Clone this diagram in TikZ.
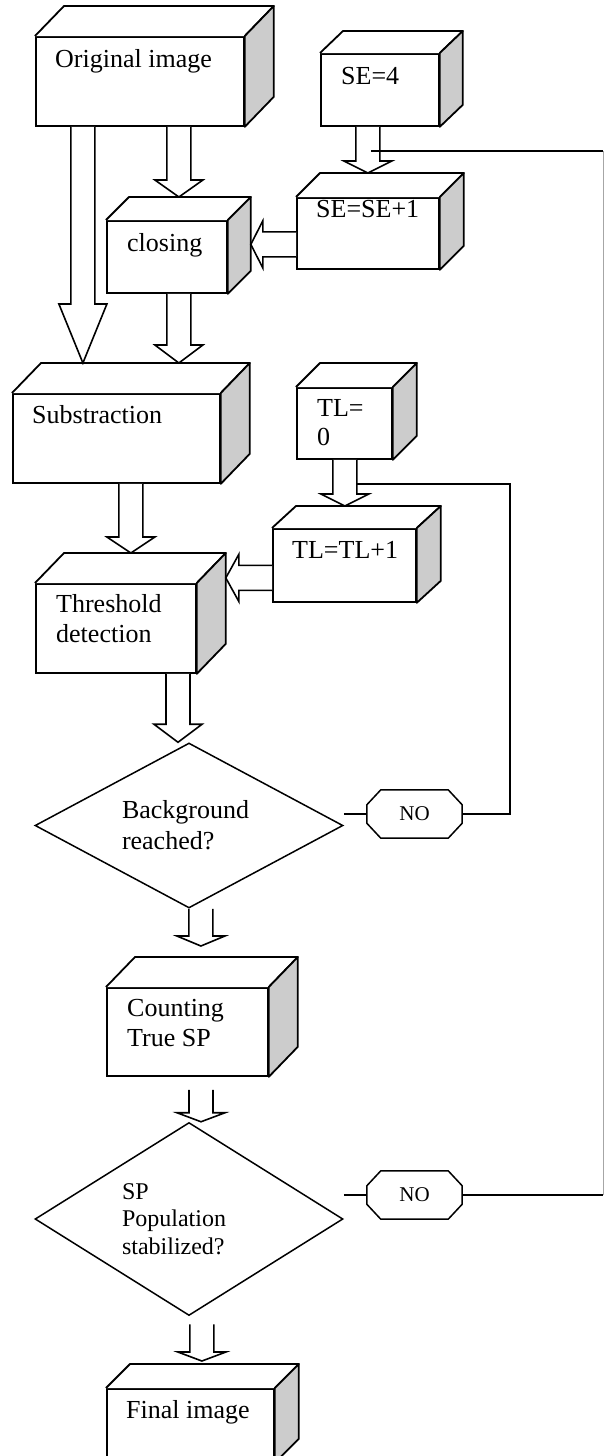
\documentclass[tikz,border=0pt]{standalone}
\usepackage{fontspec}
\setmainfont{Liberation Serif}
\usetikzlibrary{calc,shapes.geometric}
\definecolor{sidegray}{RGB}{204,204,204}
\tikzset{
  face/.style={draw, fill=white, line width=1.8pt, anchor=north west, inner sep=0pt},
  cubetop/.style={draw, fill=white, line width=1.8pt, line join=round},
  cubeside/.style={draw, fill=sidegray, line width=1.8pt, line join=round},
  lbl/.style={anchor=north west, inner sep=0pt, align=left, font=\fontsize{26}{30}\selectfont},
  decision/.style={diamond, draw, line width=1.5pt, inner sep=0pt, text width=134pt, align=left, aspect=1.8},
  nobox/.style={minimum width=95pt, minimum height=48pt, inner sep=0pt, font=\fontsize{21}{24}\selectfont},
  octa/.style={draw, line width=1.5pt},
  blockarrow/.style={draw, fill=white, line width=1.6pt},
  loop/.style={draw, line width=1.5pt}
}
% top and side of a box, plus two helper points
\newcommand{\cubefaces}[3]{%
  \draw[cubetop] (#1.north west) -- ++(#2,#3) -- ($(#1.north east)+(#2,#3)$) -- (#1.north east);
  \draw[cubeside] (#1.north east) -- ++(#2,#3) -- ($(#1.south east)+(#2,#3)$) -- (#1.south east) -- cycle;
  \coordinate (#1-top) at ($(#1.north)+(0,#3)$);
  \coordinate (#1-side) at ($(#1.east)+(#2,0)$);}
% cut corners round a NO node
\newcommand{\octaround}[1]{%
  \draw[octa] ([xshift=14pt]#1.north west) -- ([xshift=-14pt]#1.north east) -- ([yshift=-15pt]#1.north east)
    -- ([yshift=15pt]#1.south east) -- ([xshift=-14pt]#1.south east) -- ([xshift=14pt]#1.south west)
    -- ([yshift=15pt]#1.south west) -- ([yshift=-15pt]#1.north west) -- cycle;}
% wide arrow pointing down: [head]{from}{to}{x offset}
\newcommand{\blkdown}[4][12]{%
  \draw[blockarrow] let \p1=(#2), \p2=(#3) in
    (\x2+#4pt-12pt,\y1) -- (\x2+#4pt-12pt,\y2+#1pt) -- (\x2+#4pt-24pt,\y2+#1pt) -- (\x2+#4pt,\y2)
    -- (\x2+#4pt+24pt,\y2+#1pt) -- (\x2+#4pt+12pt,\y2+#1pt) -- (\x2+#4pt+12pt,\y1);}
% wide arrow pointing left: [head]{from}{to}{y offset}
\newcommand{\blkleft}[4][12]{%
  \draw[blockarrow] let \p1=(#2), \p2=(#3) in
    (\x1,\y1-#4pt+12.5pt) -- (\x2+#1pt,\y1-#4pt+12.5pt) -- (\x2+#1pt,\y1-#4pt+23.5pt) -- (\x2,\y1-#4pt)
    -- (\x2+#1pt,\y1-#4pt-23.5pt) -- (\x2+#1pt,\y1-#4pt-12.5pt) -- (\x1,\y1-#4pt-12.5pt);}

\begin{document}
\begin{tikzpicture}[x=1pt,y=-1pt]
\useasboundingbox (0,0) rectangle (604,1456);

% boxes
\node[face, minimum width=208pt, minimum height=89pt] (orig) at (35,36) {};
\cubefaces{orig}{29}{-30}
\node[lbl] (orig-txt) at ([shift={(20,13)}]orig.north west) {Original image};

\node[face, minimum width=118pt, minimum height=72pt] (se4) at (320,53) {};
\cubefaces{se4}{23}{-22}
\node[lbl] (se4-txt) at ([shift={(21,14)}]se4.north west) {SE=4};

\node[face, minimum width=142pt, minimum height=71pt] (se1) at (296,197) {};
\cubefaces{se1}{24}{-24}
\node[lbl] (se1-txt) at ([shift={(20,3)}]se1.north west) {SE=SE+1};

\node[face, minimum width=120pt, minimum height=72pt] (closing) at (106,220) {};
\cubefaces{closing}{23}{-23}
\node[lbl] (closing-txt) at ([shift={(21,13)}]closing.north west) {closing};

\node[face, minimum width=207pt, minimum height=89pt] (subst) at (12,393) {};
\cubefaces{subst}{29}{-30}
\node[lbl] (subst-txt) at ([shift={(20,12)}]subst.north west) {Substraction};

\node[face, minimum width=95pt, minimum height=71pt] (tl0) at (296,387) {};
\cubefaces{tl0}{24}{-24}
\node[lbl, font=\fontsize{26}{29}\selectfont] (tl0-txt) at ([shift={(21,12)}]tl0.north west) {TL=\\0};

\node[face, minimum width=143pt, minimum height=73pt] (tl1) at (272,528) {};
\cubefaces{tl1}{24}{-22}
\node[lbl] (tl1-txt) at ([shift={(20,13)}]tl1.north west) {TL=TL+1};

\node[face, minimum width=160pt, minimum height=89pt] (thresh) at (35,583) {};
\cubefaces{thresh}{29}{-30}
\node[lbl] (thresh-txt) at ([shift={(21,11)}]thresh.north west) {Threshold\\detection};

\node[face, minimum width=161pt, minimum height=88pt] (count) at (106,987) {};
\cubefaces{count}{29}{-30}
\node[lbl] (count-txt) at ([shift={(21,12)}]count.north west) {Counting\\True SP};

\node[face, minimum width=167pt, minimum height=73pt] (final) at (106,1388) {};
\cubefaces{final}{24}{-24}
\node[lbl] (final-txt) at ([shift={(20,12)}]final.north west) {Final image};

% tests
\node[decision, minimum width=308pt, minimum height=165pt, font=\fontsize{26}{31}\selectfont] (bg) at (189,825.5) {Background\\reached?};
\node[decision, minimum width=308pt, minimum height=193pt, font=\fontsize{24}{27.5}\selectfont] (sp) at (189,1219) {SP\\Population\\stabilized?};
\node[nobox] (no1) at (414.5,814) {NO};
\octaround{no1}
\node[nobox] (no2) at (414.5,1195) {NO};
\octaround{no2}

% wide arrows
\blkdown[17]{orig.south}{closing-top}{12}
\blkdown[59]{orig.south}{subst-top}{-33.5}
\blkdown[18]{closing.south}{subst-top}{62.5}
\blkdown[16]{subst.south}{thresh-top}{15}
\blkdown[18]{thresh.south}{bg.north}{-11}
\blkdown[10]{bg.south}{[yshift=11pt]count-top}{13.5}
\blkdown[9]{[yshift=-13pt]count.south}{sp.north}{12}
\blkdown[9]{[yshift=-8pt]sp.south}{[yshift=3pt]final-top}{11.5}
\blkdown[12]{se4.south}{se1-top}{0}
\blkdown[12]{tl0.south}{tl1-top}{0.5}
\blkleft[12]{se1.west}{closing-side}{11}
\blkleft[13]{tl1.west}{thresh-side}{12.5}

% loops back
\coordinate (tl-in) at ($(tl0.south)+(12.5,24)$);
\coordinate (se-in) at ($(se4.south)+(-9,24)$);
\coordinate (edge-bot) at ($(no2.east)+(141,0)$);
\coordinate (edge-top) at (edge-bot |- se-in);
\draw[loop] (bg.east |- no1.west) -- (no1.west);
\draw[loop] (no1.east) -- ++(48,0) |- (tl-in);
\draw[loop] (sp.east |- no2.west) -- (no2.west);
\draw[loop] (no2.east) -- (edge-bot);
\draw[loop, draw=gray!70, line width=0.8pt] (edge-bot) -- (edge-top);
\draw[loop] (edge-top) -- (se-in);
\end{tikzpicture}
\end{document}
